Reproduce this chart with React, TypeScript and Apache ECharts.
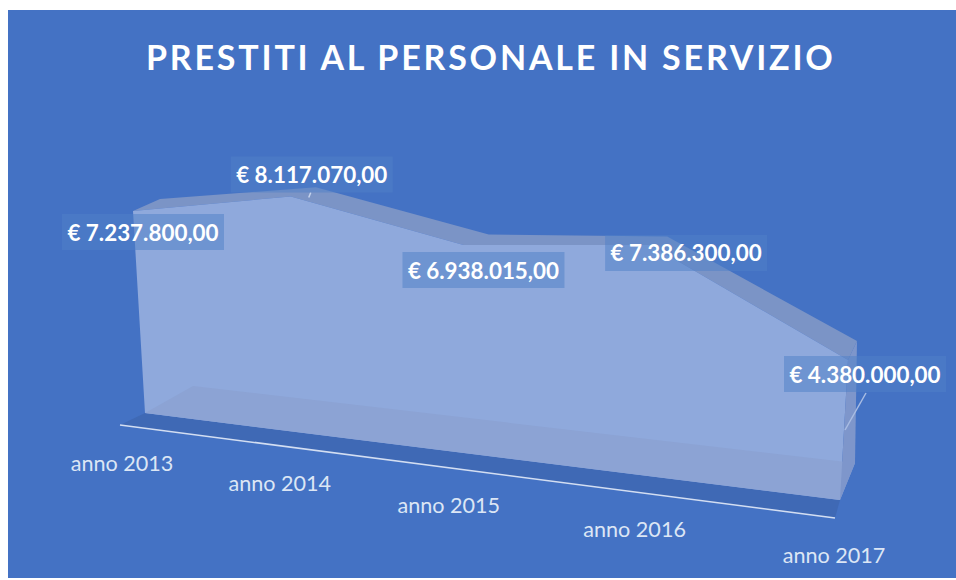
import React, { useEffect, useRef } from "react";
import * as echarts from "echarts";

const categories = ["anno 2013", "anno 2014", "anno 2015", "anno 2016", "anno 2017"];
const values = [7237800, 8117070, 6938015, 7386300, 4380000];
const valueLabels = ["€ 7.237.800,00", "€ 8.117.070,00", "€ 6.938.015,00", "€ 7.386.300,00", "€ 4.380.000,00"];
const titleText = "PRESTITI AL PERSONALE IN SERVIZIO";

// perspective anchors: screen position of the four plane corners
const FRONT = [[145, 413], [840, 500], [133, 211], [848, 360]];
const BACK = [[193, 386], [855, 463], [160, 199], [857, 341]];
const LABEL_OFFSET = [[10, 21], [21, -22], [20, 25], [36, 8], [17, 14]];
const CATEGORY_OFFSET = [[-23, 50], [-19, 51], [-16, 52], [-10, 53], [-6, 55]];

function solve(A: number[][], b: number[]) {
  const n = b.length;
  const M = A.map((r, i) => [...r, b[i]]);
  for (let c = 0; c < n; c++) {
    let p = c;
    for (let r = c + 1; r < n; r++) if (Math.abs(M[r][c]) > Math.abs(M[p][c])) p = r;
    [M[c], M[p]] = [M[p], M[c]];
    for (let r = 0; r < n; r++) {
      if (r === c) continue;
      const f = M[r][c] / M[c][c];
      for (let k = c; k <= n; k++) M[r][k] -= f * M[c][k];
    }
  }
  return M.map((r, i) => r[n] / r[i]);
}

function homography(src: number[][], dst: number[][]) {
  const A: number[][] = [];
  const b: number[] = [];
  src.forEach(([x, y], i) => {
    const [u, v] = dst[i];
    A.push([x, y, 1, 0, 0, 0, -u * x, -u * y]);
    b.push(u);
    A.push([0, 0, 0, x, y, 1, -v * x, -v * y]);
    b.push(v);
  });
  const h = solve(A, b);
  return (p: number[]) => {
    const w = h[6] * p[0] + h[7] * p[1] + 1;
    return [(h[0] * p[0] + h[1] * p[1] + h[2]) / w, (h[3] * p[0] + h[4] * p[1] + h[5]) / w];
  };
}

function renderChart(params: any, api: any) {
  if (params.dataIndex !== 0) return null;
  const last = values.length - 1;
  const src = [
    api.coord([0, 0]),
    api.coord([last, 0]),
    api.coord([0, values[0]]),
    api.coord([last, values[last]]),
  ];
  const front = homography(src, FRONT);
  const back = homography(src, BACK);
  const idx = values.map((_, i) => i);
  const fTop = idx.map((i) => front(api.coord([i, values[i]])));
  const bTop = idx.map((i) => back(api.coord([i, values[i]])));
  const fBase = idx.map((i) => front(api.coord([i, 0])));
  const bBase = idx.map((i) => back(api.coord([i, 0])));
  const poly = (points: number[][], fill: string, z2 = 0) => ({
    type: "polygon",
    z2,
    shape: { points },
    style: { fill },
  });
  const fl = fBase[0], fr = fBase[last], bl = bBase[0], br = bBase[last];
  const axisL = [fl[0] - 25, fl[1] + 12];
  const axisR = [fr[0] - 5, fr[1] + 18];
  const children: any[] = [
    poly([fl, fr, axisR, axisL], "#3F69B5", 1),
    {
      type: "line",
      z2: 2,
      shape: { x1: axisL[0], y1: axisL[1], x2: axisR[0], y2: axisR[1] },
      style: { stroke: "#D3DEF2", lineWidth: 1.6 },
    },
    poly([...bTop, ...[...fTop].reverse()], "#7B94C6", 3),
    poly([...fTop, fr, fl], "#8FA9DC", 4),
    poly([fl, bl, br, fr], "#8CA3D4", 5),
    poly([fTop[last], bTop[last], br, fr], "#7E96CB", 6),
    // leader lines
    {
      type: "line",
      z2: 6,
      shape: { x1: fTop[1][0] + 18, y1: fTop[1][1] + 1, x2: fTop[1][0] + 20, y2: fTop[1][1] - 4 },
      style: { stroke: "#C5D3EC", lineWidth: 1.5 },
    },
    {
      type: "line",
      z2: 6,
      shape: { x1: fr[0] + 5, y1: fr[1] - 70, x2: fr[0] + 26, y2: fr[1] - 107 },
      style: { stroke: "#A9BDE3", lineWidth: 1.5 },
    },
  ];
  idx.forEach((i) => {
    const cx = fTop[i][0] + LABEL_OFFSET[i][0];
    const cy = fTop[i][1] + LABEL_OFFSET[i][1];
    children.push({
      type: "rect",
      z2: 7,
      shape: { x: cx - 81, y: cy - 18, width: 162, height: 36 },
      style: { fill: "rgba(80,129,200,0.52)" },
    });
    children.push({
      type: "text",
      z2: 8,
      x: cx,
      y: cy,
      style: {
        text: valueLabels[i],
        fill: "#FFFFFF",
        font: "bold 22.4px Lato",
        align: "center",
        verticalAlign: "middle",
      },
    });
    children.push({
      type: "text",
      z2: 8,
      x: fBase[i][0] + CATEGORY_OFFSET[i][0],
      y: fBase[i][1] + CATEGORY_OFFSET[i][1],
      style: {
        text: categories[i],
        fill: "#DCE6F5",
        font: "21.6px Lato",
        align: "center",
        verticalAlign: "middle",
      },
    });
  });
  return { type: "group", children };
}

export default function App() {
  const ref = useRef<HTMLDivElement>(null);
  useEffect(() => {
    const chart = echarts.init(ref.current!, null, { renderer: "svg" });
    chart.setOption({
      animation: false,
      backgroundColor: "#FFFFFF",
      title: {
        text: titleText,
        left: 141,
        top: 34,
        textStyle: { color: "#FFFFFF", fontFamily: "Lato", fontWeight: "bold", fontSize: 34 },
      },
      graphic: [
        {
          type: "rect",
          z: -10,
          shape: { x: 8, y: 10, width: 948, height: 568 },
          style: { fill: "#4472C4" },
        },
      ],
      grid: { left: 100, right: 100, top: 100, bottom: 100 },
      xAxis: { type: "category", data: categories, boundaryGap: false, show: false },
      yAxis: { type: "value", min: 0, max: 9000000, show: false },
      series: [
        {
          type: "custom",
          coordinateSystem: "cartesian2d",
          clip: false,
          silent: true,
          encode: { x: 0, y: 1 },
          data: values.map((v, i) => [i, v]),
          renderItem: renderChart,
        },
      ],
    });
    ref.current!.querySelectorAll("text").forEach((t) => {
      if (t.textContent === titleText) t.setAttribute("letter-spacing", "2.8");
    });
    return () => chart.dispose();
  }, []);
  return (
    <div
      ref={ref}
      style={{ position: "absolute", left: 0, top: 0, width: 956, height: 580 }}
    />
  );
}
